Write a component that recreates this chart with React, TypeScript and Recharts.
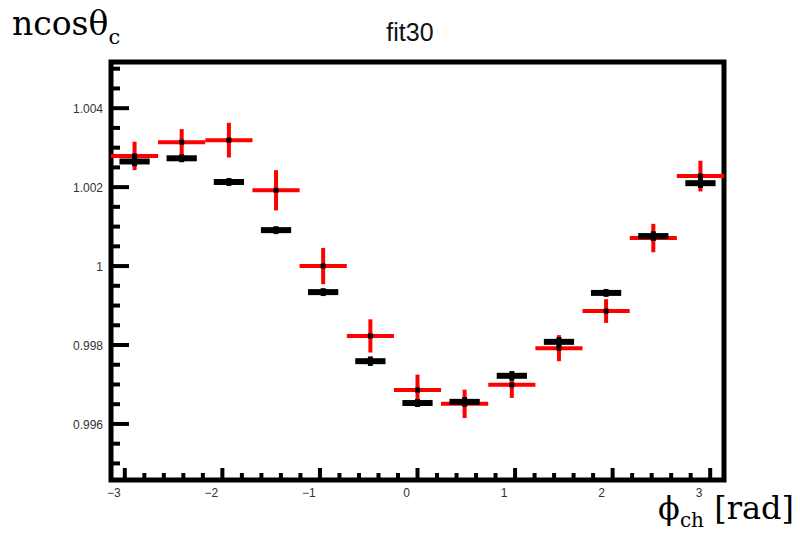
import React from "react";
import {
  ErrorBar,
  ReferenceArea,
  Scatter,
  ScatterChart,
  XAxis,
  YAxis,
} from "recharts";

// bin centres in phi_ch (13 bins over -pi..pi)
const phiCenters = [
  -2.9, -2.417, -1.933, -1.45, -0.967, -0.483, 0, 0.483, 0.967, 1.45, 1.933,
  2.417, 2.9,
];

// red series (fit)
const redValues = [
  1.00279, 1.00314, 1.00319, 1.00192, 1.0, 0.99823, 0.99686, 0.99651, 0.99699,
  0.99792, 0.99886, 1.00071, 1.00228,
];
const redErrors = [
  0.00036, 0.00033, 0.00044, 0.00051, 0.00046, 0.00042, 0.00039, 0.00036,
  0.00033, 0.00033, 0.0003, 0.00036, 0.00039,
];
const redHalfWidth = 0.2417;

// black series
const blackValues = [
  1.00265, 1.00273, 1.00213, 1.00091, 0.99934, 0.99759, 0.99653, 0.99656,
  0.99722, 0.99808, 0.99932, 1.00076, 1.0021,
];
const blackErrors = [
  0.00012, 0.0001, 0.0001, 0.0001, 0.0001, 0.00012, 0.0001, 0.00012, 0.00012,
  0.00012, 0.0001, 0.00012, 0.00012,
];
const blackHalfWidth = 0.155;

const xTicks = [
  -3, -2.8, -2.6, -2.4, -2.2, -2, -1.8, -1.6, -1.4, -1.2, -1, -0.8, -0.6, -0.4,
  -0.2, 0, 0.2, 0.4, 0.6, 0.8, 1, 1.2, 1.4, 1.6, 1.8, 2, 2.2, 2.4, 2.6, 2.8, 3,
];
const yTicks = [
  0.995, 0.9955, 0.996, 0.9965, 0.997, 0.9975, 0.998, 0.9985, 0.999, 0.9995, 1,
  1.0005, 1.001, 1.0015, 1.002, 1.0025, 1.003, 1.0035, 1.004, 1.0045, 1.005,
];

const xDomain = [-Math.PI, Math.PI];
const yDomain = [0.99458, 1.00517];

const redData = phiCenters.map((x, i) => ({
  x,
  y: redValues[i],
  ey: redErrors[i],
  ex: redHalfWidth,
}));
const blackData = phiCenters.map((x, i) => ({
  x,
  y: blackValues[i],
  ey: blackErrors[i],
  ex: blackHalfWidth,
}));

const labelFont = "'Liberation Sans', Arial, sans-serif";

function XTick(props: any) {
  const { x, y, payload } = props;
  const v = payload.value;
  const major = Math.abs(v - Math.round(v)) < 1e-6;
  const len = major ? 12 : 7;
  return (
    <g>
      <line x1={x} x2={x} y1={y} y2={y - len} stroke="#000" strokeWidth={4} />
      {major && (
        <text
          x={x - 11}
          y={y + 17}
          textAnchor="middle"
          fontSize={12}
          fontFamily={labelFont}
          fill="#333"
        >
          {v < 0 ? "\u2212" + Math.abs(v) : String(v)}
        </text>
      )}
    </g>
  );
}

function YTick(props: any) {
  const { x, y, payload } = props;
  const v = payload.value;
  const k = v * 1000;
  const major = Math.abs(k - Math.round(k)) < 1e-6 && Math.round(k) % 2 === 0;
  const len = major ? 18 : 9;
  return (
    <g>
      <line x1={x} x2={x + len} y1={y} y2={y} stroke="#000" strokeWidth={4} />
      {major && (
        <text
          x={x - 8}
          y={y + 5}
          textAnchor="end"
          fontSize={12}
          fontFamily={labelFont}
          fill="#333"
        >
          {String(parseFloat(v.toFixed(3)))}
        </text>
      )}
    </g>
  );
}

function Square(props: any) {
  const { cx, cy } = props;
  return <rect x={cx - 2.5} y={cy - 2.5} width={5} height={5} fill="#000" />;
}

export default function App() {
  return (
    <div
      style={{
        position: "absolute",
        left: 0,
        top: 0,
        width: 800,
        height: 536,
        background: "#fff",
      }}
    >
      <ScatterChart
        width={800}
        height={536}
        margin={{ top: 62, right: 76, bottom: 26, left: 51 }}
      >
        <XAxis
          type="number"
          dataKey="x"
          domain={xDomain}
          allowDataOverflow
          ticks={xTicks}
          interval={0}
          tickSize={0}
          tickMargin={0}
          axisLine={false}
          tickLine={false}
          tick={<XTick />}
          height={30}
        />
        <YAxis
          type="number"
          dataKey="y"
          domain={yDomain}
          allowDataOverflow
          ticks={yTicks}
          interval={0}
          tickSize={0}
          tickMargin={0}
          axisLine={false}
          tickLine={false}
          tick={<YTick />}
          width={60}
        />
        <ReferenceArea
          x1={xDomain[0]}
          x2={xDomain[1]}
          y1={yDomain[0]}
          y2={yDomain[1]}
          fill="none"
          fillOpacity={0}
          stroke="#000"
          strokeWidth={5}
          ifOverflow="visible"
        />
        <Scatter data={redData} shape={<Square />} isAnimationActive={false}>
          <ErrorBar
            dataKey="ex"
            direction="x"
            width={0}
            stroke="#ff0000"
            strokeWidth={4}
          />
          <ErrorBar
            dataKey="ey"
            direction="y"
            width={0}
            stroke="#ff0000"
            strokeWidth={4}
          />
        </Scatter>
        <Scatter data={blackData} shape={<Square />} isAnimationActive={false}>
          <ErrorBar
            dataKey="ex"
            direction="x"
            width={0}
            stroke="#000"
            strokeWidth={6}
          />
          <ErrorBar
            dataKey="ey"
            direction="y"
            width={0}
            stroke="#000"
            strokeWidth={5}
          />
        </Scatter>
      </ScatterChart>
      <div
        style={{
          position: "absolute",
          left: 12,
          top: 4,
          fontFamily: "'DejaVu Serif', serif",
          fontSize: 33,
          lineHeight: "40px",
          color: "#000",
          whiteSpace: "nowrap",
        }}
      >
        ncosθ
        <span style={{ fontSize: 21, position: "relative", top: 9 }}>c</span>
      </div>
      <div
        style={{
          position: "absolute",
          left: 350,
          width: 120,
          top: 15,
          textAlign: "center",
          fontFamily: labelFont,
          fontSize: 25,
          lineHeight: "34px",
          color: "#111",
        }}
      >
        fit30
      </div>
      <div
        style={{
          position: "absolute",
          right: 6,
          top: 488,
          fontFamily: "'DejaVu Serif', serif",
          fontSize: 32,
          lineHeight: "40px",
          color: "#000",
          whiteSpace: "nowrap",
        }}
      >
        ϕ<span style={{ fontSize: 20, position: "relative", top: 8 }}>ch</span>{" "}
        [rad]
      </div>
    </div>
  );
}
